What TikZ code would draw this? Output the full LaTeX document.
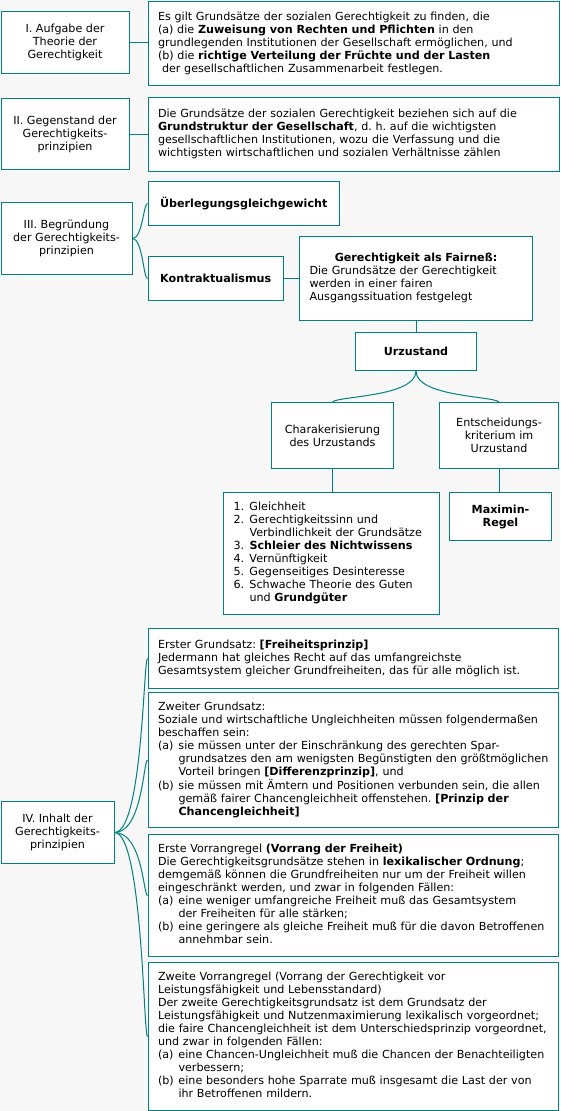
\documentclass[tikz,border=0pt]{standalone}
\usepackage{fontspec}
\setmainfont{DejaVu Sans}
\usetikzlibrary{calc}
\definecolor{tealline}{RGB}{0,128,128}
\definecolor{pagebg}{RGB}{247,247,247}
\newcommand\tlines[1]{\begin{tabular}[t]{@{}l@{}}#1\end{tabular}}
\newcommand\hind{\hspace*{20.5pt}}
\newcommand\itm[1]{\makebox[20.5pt][l]{#1}}
\newcommand\enu[1]{\makebox[16pt][l]{#1}}
\newcommand\bx[7]{%
  \pgfmathsetmacro\bxw{#4-#2}%
  \pgfmathsetmacro\bxh{#5-#3}%
  \pgfmathsetmacro\bxtw{#4-#2-20}%
  \node[box,minimum width=\bxw pt,minimum height=\bxh pt,#6] (#1) at (#2,#3) {#7};}
\newcommand\hbrace[2]{\draw[conn] let \p1=(#1), \p2=(#2) in (\p1) .. controls (\x2-5pt,\y1) and (\x2-4pt,\y2) .. (\p2);}
\frenchspacing
\begin{document}
\begin{tikzpicture}[x=1pt,y=-1pt,font=\fontsize{11.15}{13}\selectfont\frenchspacing,
  box/.style={draw=tealline,line width=1pt,fill=white,inner sep=0pt,anchor=north west,align=center},
  lbox/.style={align=left,text width=\bxtw pt,inner xsep=10pt},
  conn/.style={draw=tealline,line width=1pt}]
\useasboundingbox (0,0) rectangle (560,1111);
\fill[pagebg] (0,0) rectangle (560,1111);

\bx{I}{0.5}{11}{128.5}{73}{}{I. Aufgabe der\\Theorie der\\Gerechtigkeit}
\bx{Itext}{147.5}{1}{559}{85}{lbox}{\noindent\tlines{Es gilt Grundsätze der sozialen Gerechtigkeit zu finden, die\\
(a) die \textbf{Zuweisung von Rechten und Pflichten} in den\\
grundlegenden Institutionen der Gesellschaft ermöglichen, und\\
(b) die \textbf{richtige Verteilung der Früchte und der Lasten}\\
\hspace*{4pt}der gesellschaftlichen Zusammenarbeit festlegen.}}

\bx{II}{0.5}{98}{128.5}{169}{}{II. Gegenstand der\\Gerechtigkeits-\\prinzipien}
\bx{IItext}{147.5}{97}{559}{171}{lbox}{\noindent\tlines{Die Grundsätze der sozialen Gerechtigkeit beziehen sich auf die\\
\textbf{Grundstruktur der Gesellschaft}, d. h. auf die wichtigsten\\
gesellschaftlichen Institutionen, wozu die Verfassung und die\\
wichtigsten wirtschaftlichen und sozialen Verhältnisse zählen}}

\bx{III}{0.5}{202}{131.5}{274}{}{III. Begründung\\der Gerechtigkeits-\\prinzipien}
\bx{Ue}{147.5}{181}{339}{225}{}{\textbf{Überlegungsgleichgewicht}}
\bx{K}{147.5}{256}{283}{300}{}{\textbf{Kontraktualismus}}
\bx{F}{299}{236}{532}{320}{lbox}{\noindent\makebox[\bxtw pt][c]{\textbf{Gerechtigkeit als Fairneß:}}\\
\tlines{Die Grundsätze der Gerechtigkeit\\werden in einer fairen\\Ausgangssituation festgelegt}}
\bx{U}{355}{332}{476}{370}{}{\textbf{Urzustand}}
\bx{C}{271}{402}{393}{468}{}{Charakerisierung\\des Urzustands}
\bx{E}{439}{402}{558}{468}{}{Entscheidungs-\\kriterium im\\Urzustand}
\bx{L}{223}{492}{439}{614}{lbox}{\noindent\tlines{\enu{1.}Gleichheit\\
\enu{2.}Gerechtigkeitssinn und\\
\hspace*{16pt}Verbindlichkeit der Grundsätze\\
\enu{3.}\textbf{Schleier des Nichtwissens}\\
\enu{4.}Vernünftigkeit\\
\enu{5.}Gegenseitiges Desinteresse\\
\enu{6.}Schwache Theorie des Guten\\
\hspace*{16pt}und \textbf{Grundgüter}}}
\bx{M}{449}{492}{551}{540}{}{\textbf{Maximin-}\\\textbf{Regel}}

\bx{IV}{0.5}{801}{113.5}{863}{}{IV. Inhalt der\\Gerechtigkeits-\\prinzipien}
\bx{G1}{147.5}{628}{558}{688}{lbox}{\noindent\tlines{Erster Grundsatz: \textbf{[Freiheitsprinzip]}\\
Jedermann hat gleiches Recht auf das umfangreichste\\
Gesamtsystem gleicher Grundfreiheiten, das für alle möglich ist.}}
\bx{G2}{147.5}{692}{558}{827}{lbox}{\noindent\tlines{Zweiter Grundsatz:\\
Soziale und wirtschaftliche Ungleichheiten müssen folgendermaßen\\
beschaffen sein:\\
\itm{(a)}sie müssen unter der Einschränkung des gerechten Spar-\\
\hind grundsatzes den am wenigsten Begünstigten den größtmöglichen\\
\hind Vorteil bringen \textbf{[Differenzprinzip]}, und\\
\itm{(b)}sie müssen mit Ämtern und Positionen verbunden sein, die allen\\
\hind gemäß fairer Chancengleichheit offenstehen. \textbf{[Prinzip der}\\
\hind\textbf{Chancengleichheit]}}}
\bx{V1}{147.5}{834}{558}{956}{lbox}{\noindent\tlines{Erste Vorrangregel \textbf{(Vorrang der Freiheit)}\\
Die Gerechtigkeitsgrundsätze stehen in \textbf{lexikalischer Ordnung};\\
demgemäß können die Grundfreiheiten nur um der Freiheit willen\\
eingeschränkt werden, und zwar in folgenden Fällen:\\
\itm{(a)}eine weniger umfangreiche Freiheit muß das Gesamtsystem\\
\hind der Freiheiten für alle stärken;\\
\itm{(b)}eine geringere als gleiche Freiheit muß für die davon Betroffenen\\
\hind annehmbar sein.}}
\bx{V2}{147.5}{962}{558}{1110}{lbox}{\noindent\tlines{Zweite Vorrangregel (Vorrang der Gerechtigkeit vor\\
Leistungsfähigkeit und Lebensstandard)\\
Der zweite Gerechtigkeitsgrundsatz ist dem Grundsatz der\\
Leistungsfähigkeit und Nutzenmaximierung lexikalisch vorgeordnet;\\
die faire Chancengleichheit ist dem Unterschiedsprinzip vorgeordnet,\\
und zwar in folgenden Fällen:\\
\itm{(a)}eine Chancen-Ungleichheit muß die Chancen der Benachteiligten\\
\hind verbessern;\\
\itm{(b)}eine besonders hohe Sparrate muß insgesamt die Last der von\\
\hind ihr Betroffenen mildern.}}

% connectors
\draw[conn] (I.east) -- (I.east -| Itext.west);
\draw[conn] (II.east) -- (II.east -| IItext.west);
\hbrace{III.east}{Ue.west}
\hbrace{III.east}{K.west}
\draw[conn] (K.east) -- (K.east -| F.west);
\draw[conn] (F.south) -- (F.south |- U.north);
\draw[conn] let \p1=(U.south), \p2=(C.north) in (\p1) .. controls (\x1,\y2+5pt) and (\x2+5pt,\y2+6pt) .. (\p2);
\draw[conn] let \p1=(U.south), \p2=(E.north) in (\p1) .. controls (\x1,\y2+5pt) and (\x2-5pt,\y2+6pt) .. (\p2);
\draw[conn] (C.south) -- (C.south |- L.north);
\draw[conn] (E.south) -- (E.south |- M.north);
\hbrace{IV.east}{G1.west}
\hbrace{IV.east}{G2.west}
\hbrace{IV.east}{V1.west}
\hbrace{IV.east}{V2.west}
\end{tikzpicture}
\end{document}
